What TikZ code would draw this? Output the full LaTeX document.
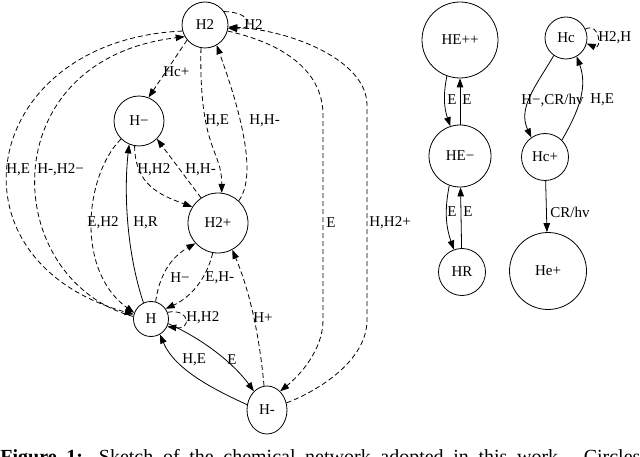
\documentclass[tikz,border=0pt]{standalone}
\usepackage{fontspec}
\setmainfont{Liberation Serif}
\usetikzlibrary{arrows.meta,shapes.geometric}

\begin{document}
\begin{tikzpicture}[x=1pt,y=1pt,line width=0.8pt,
    every node/.style={inner sep=0pt,font=\fontsize{15}{17}\selectfont},
    state/.style={circle,draw},
    arr/.style={-{Triangle[length=9pt,width=6.5pt]}},
    dsh/.style={arr,dash pattern=on 5pt off 3pt}]
    \useasboundingbox (0,0) rectangle (640,-457);
    % hydrogen network
    \node [state,minimum size=46] (H2t) at (205,-25) {H2};
    \node [state,minimum size=50] (Hmin) at (139,-121) {H−};
    \node [state,minimum size=60] (H2p) at (218,-223) {H2+};
    \node [state,minimum size=35] (H) at (151,-319) {H};
    \node [ellipse,draw,minimum width=40,minimum height=48] (Hmb) at (267,-410) {H-};
    \draw [dsh] (H2t.35) .. controls (252,-12) and (255,-30) .. (H2t.-8);
    \node [anchor=west] (lH2) at (244,-25) {H2};
    \draw [dsh] (H2t.220) -- (Hmin.68);
    \node [anchor=west] (lHcp) at (163,-72) {Hc+};
    \draw [dsh] (H2t.260) .. controls (199,-150) and (222,-150) .. (H2p.83);
    \node [anchor=west] (lHE1) at (205,-121) {H,E};
    \draw [dsh] (H2p.47) .. controls (258,-175) and (240,-110) .. (H2t.-60);
    \node [anchor=west] (lHHm1) at (249,-121) {H,H-};
    \draw [dsh] (H2p.124) -- (Hmin.-45);
    \node [anchor=west] (lHHm2) at (185,-170) {H,H-};
    \draw [dsh] (Hmin.-100) .. controls (135,-185) and (160,-195) .. (H2p.148);
    \node [anchor=west] (lHH2a) at (137,-170) {H,H2};
    \draw [arr] (H.115) .. controls (126,-250) and (124,-190) .. (Hmin.247);
    \node [anchor=west] (lHR) at (133,-223) {H,R};
    \draw [dsh] (Hmin.225) .. controls (85,-175) and (75,-270) .. (H.160);
    \node [anchor=west] (lEH2) at (87,-223) {E,H2};
    \draw [dsh] (H2t.195) .. controls (-20,-40) and (-60,-260) .. (H.165);
    \node [anchor=west] (lHE2) at (6,-170) {H,E};
    \draw [dsh] (H.172) .. controls (0,-280) and (-10,-60) .. (H2t.210);
    \node [anchor=west] (lHmH2m) at (37,-170) {H-,H2−};
    \draw [dsh] (H.75) .. controls (160,-270) and (175,-255) .. (H2p.222);
    \node [anchor=west] (lHm) at (170,-278) {H−};
    \draw [dsh] (H2p.260) .. controls (205,-285) and (185,-300) .. (H.35);
    \node [anchor=west] (lEHm) at (205,-278) {E,H-};
    \draw [dsh] (H.22) .. controls (190,-308) and (192,-330) .. (H.-25);
    \node [anchor=west] (lHH2b) at (186,-318) {H,H2};
    \draw [arr] (Hmb.165) .. controls (215,-390) and (175,-370) .. (H.-60);
    \node [anchor=west] (lHE3) at (182,-360) {H,E};
    \draw [arr] (H.-15) .. controls (205,-340) and (235,-365) .. (Hmb.125);
    \node [anchor=west] (lE1) at (227,-360) {E};
    \draw [dsh] (Hmb.97) .. controls (258,-320) and (245,-280) .. (H2p.-62);
    \node [anchor=west] (lHp) at (253,-318) {H+};
    \draw [dsh] (H2t.-15) .. controls (290,-45) and (323,-75) .. (323,-115)
        -- (323,-320) .. controls (323,-350) and (300,-375) .. (Hmb.55);
    \node [anchor=west] (lE2) at (326,-223) {E};
    \draw [dsh] (Hmb.20) .. controls (320,-390) and (367,-360) .. (367,-320)
        -- (367,-105) .. controls (367,-60) and (290,-30) .. (H2t.-5);
    \node [anchor=west] (lHH2p) at (369,-223) {H,H2+};
    % helium chain
    \node [state,minimum size=76] (HEpp) at (460,-40) {HE++};
    \node [state,minimum size=62] (HEm) at (460,-156) {HE−};
    \node [state,minimum size=47] (HR) at (462,-272) {HR};
    \draw [arr] (HEpp.250) to [bend right=15] (HEm.108);
    \draw [arr] (HEm) -- (HEpp);
    \node [anchor=west] (lE3) at (447,-100) {E};
    \node [anchor=west] (lE4) at (462,-100) {E};
    \draw [arr] (HEm.250) to [bend right=15] (HR.110);
    \draw [arr] (HR) -- (HEm);
    \node [anchor=west] (lE5) at (447,-212) {E};
    \node [anchor=west] (lE6) at (463,-212) {E};
    % second chain
    \node [state,minimum size=42] (Hc) at (566,-38) {Hc};
    \node [state,minimum size=47] (Hcp) at (545,-157) {Hc+};
    \node [state,minimum size=77] (He) at (548,-271) {He+};
    \draw [dsh] (Hc.25) .. controls (600,-22) and (602,-50) .. (Hc.-15);
    \node [anchor=west] (lH2H) at (598,-38) {H2,H};
    \draw [arr] (Hc.235) to [out=240,in=115] (Hcp.125);
    \node [anchor=west] (lHmCR) at (521,-100) {H−,CR/hv};
    \draw [arr] (Hcp.45) to [out=60,in=-70] (Hc.-60);
    \node [anchor=west] (lHE4) at (590,-100) {H,E};
    \draw [arr] (Hcp) -- (He);
    \node [anchor=west] (lCR) at (550,-212) {CR/hv};
    % caption, cut by the frame
    \node [anchor=base west,font=\fontsize{20}{24}\selectfont] (cap) at (0,-463)
        {\makebox[640pt][s]{\textbf{Figure 1:} Sketch of the chemical network adopted in this work. Circles}};
\end{tikzpicture}
\end{document}
